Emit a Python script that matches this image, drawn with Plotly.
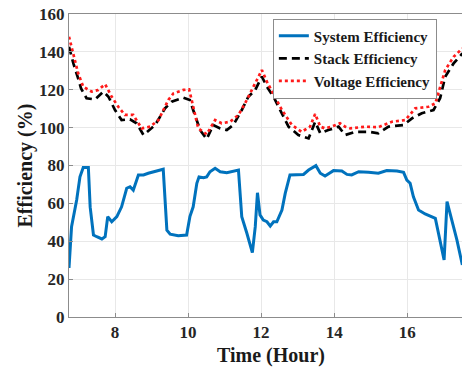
import plotly.graph_objects as go

# Time (hour) and efficiency (%)
time_sys = [6.74, 6.81, 6.95, 7.04, 7.13, 7.27, 7.32, 7.41, 7.50, 7.64, 7.73, 7.80, 7.91,
            8.05, 8.18, 8.32, 8.41, 8.50, 8.64, 8.78, 8.91, 9.05, 9.32, 9.42, 9.51, 9.73,
            9.96, 10.05, 10.14, 10.24, 10.30, 10.42, 10.51, 10.60, 10.74, 10.88, 11.06, 11.38,
            11.47, 11.61, 11.76, 11.84, 11.90, 11.97, 12.06, 12.16, 12.25, 12.34, 12.43, 12.57,
            12.66, 12.79, 13.16, 13.30, 13.50, 13.62, 13.75, 13.89, 13.98, 14.21, 14.35, 14.48,
            14.67, 14.94, 15.21, 15.44, 15.72, 15.90, 15.99, 16.08, 16.17, 16.31, 16.49, 16.77,
            16.88, 17.01, 17.09, 17.22, 17.36, 17.51]
sys_eff = [25.9, 47.7, 61.8, 74.0, 79.0, 79.0, 58.0, 43.3, 42.4, 41.2, 42.4, 53.0, 50.3,
           53.0, 58.2, 68.0, 68.8, 67.0, 75.0, 75.0, 75.9, 76.7, 78.0, 45.9, 43.7, 42.9,
           43.3, 53.0, 58.2, 70.6, 74.0, 73.6, 74.0, 76.7, 78.5, 76.7, 76.2, 77.6,
           53.0, 44.2, 34.0, 47.7, 65.6, 53.9, 51.2, 50.3, 48.0, 50.3, 50.3, 56.5,
           65.3, 75.0, 75.3, 77.6, 79.9, 75.9, 74.4, 76.2, 77.3, 77.1, 75.3, 75.0,
           76.7, 76.4, 75.9, 77.3, 77.1, 76.4, 72.3, 70.6, 63.5, 56.5, 54.4, 52.1,
           42.4, 30.1, 60.9, 51.2, 40.7, 27.5]

time_stack = [6.74, 6.86, 6.99, 7.07, 7.22, 7.45, 7.68, 7.82, 8.00, 8.18, 8.41, 8.59, 8.78,
              9.10, 9.37, 9.55, 9.87, 10.05, 10.14, 10.28, 10.33, 10.51, 10.69, 10.88, 11.06,
              11.24, 11.47, 11.65, 11.84, 12.02, 12.16, 12.34, 12.52, 12.75, 13.02, 13.30,
              13.48, 13.62, 13.84, 14.12, 14.30, 14.58, 14.94, 15.21, 15.49, 15.90, 16.13,
              16.40, 16.72, 16.90, 17.04, 17.27, 17.51]
stack_eff = [142.7, 133.9, 126.0, 120.7, 115.5, 114.9, 119.0, 116.3, 109.3, 104.0, 104.4, 102.3, 96.1,
             101.4, 110.2, 113.7, 115.8, 114.6, 109.3, 100.5, 98.7, 94.0, 101.4, 99.6, 98.7,
             101.4, 109.3, 116.3, 119.9, 126.9, 121.6, 116.3, 109.3, 100.5, 96.1, 94.3,
             103.1, 97.0, 98.7, 100.5, 96.1, 97.8, 97.8, 97.0, 100.5, 101.4, 104.9,
             107.6, 109.3, 115.5, 126.9, 133.9, 139.2]

time_volt = [6.74, 6.86, 6.99, 7.13, 7.36, 7.54, 7.73, 7.91, 8.09, 8.27, 8.50, 8.73, 8.96,
             9.19, 9.46, 9.60, 9.87, 10.03, 10.14, 10.28, 10.51, 10.74, 10.92, 11.15, 11.38,
             11.56, 11.79, 12.02, 12.16, 12.38, 12.57, 12.84, 13.11, 13.34, 13.48, 13.62,
             13.75, 13.93, 14.16, 14.30, 14.44, 14.85, 15.21, 15.58, 15.95, 16.22, 16.58,
             16.77, 16.90, 17.04, 17.27, 17.51]
volt_eff = [148.0, 139.2, 128.7, 121.6, 119.0, 119.9, 122.9, 116.3, 111.0, 106.7, 106.7, 99.6, 100.5,
            104.0, 114.6, 118.1, 119.9, 120.2, 111.0, 99.6, 96.5, 104.0, 102.3, 103.1, 106.7,
            112.8, 121.6, 130.4, 124.2, 116.3, 109.3, 101.4, 97.8, 100.5, 107.2, 100.5,
            99.6, 100.5, 102.3, 100.5, 99.6, 100.5, 100.2, 103.1, 104.0, 110.2, 111.0,
            112.8, 121.6, 130.4, 137.4, 141.8]

y_ticks = [0, 20, 40, 60, 80, 100, 120, 140, 160]
x_ticks = [8, 10, 12, 14, 16]

serif = "Liberation Serif, Times New Roman, serif"

fig = go.Figure()
fig.add_trace(go.Scatter(x=time_sys, y=sys_eff, mode="lines", name="<b>System Efficiency</b>",
                         line=dict(color="#0072BD", width=3)))
fig.add_trace(go.Scatter(x=time_stack, y=stack_eff, mode="lines", name="<b>Stack Efficiency</b>",
                         line=dict(color="#000000", width=2.7, dash="8px,5px")))
fig.add_trace(go.Scatter(x=time_volt, y=volt_eff, mode="lines", name="<b>Voltage Efficiency</b>",
                         line=dict(color="#FF1A1A", width=2.7, dash="dot")))

fig.update_layout(
    width=462, height=368,
    margin=dict(l=69, r=0, t=14, b=51),
    paper_bgcolor="white", plot_bgcolor="white",
    font=dict(family=serif, color="#262626", size=17),
    showlegend=True,
    legend=dict(x=0.936, y=0.985, xanchor="right", yanchor="top",
                bgcolor="white", bordercolor="#8c8c8c", borderwidth=1,
                font=dict(family=serif, size=15, color="#1a1a1a"),
                itemwidth=30, tracegroupgap=0),
    annotations=[
        dict(text="<b>Time (Hour)</b>", xref="paper", yref="paper",
             x=0.514, y=0, yshift=-38, xanchor="center", yanchor="middle",
             showarrow=False, font=dict(family=serif, size=20, color="#1a1a1a")),
        dict(text="<b>Efficiency (%)</b>", xref="paper", yref="paper",
             x=0, y=0.5, xshift=-44, xanchor="center", yanchor="middle", textangle=-90,
             showarrow=False, font=dict(family=serif, size=20, color="#1a1a1a")),
    ],
)
fig.update_xaxes(range=[6.74, 17.5], tickvals=x_ticks, ticktext=[f"<b>{v}</b>" for v in x_ticks],
                 showgrid=True, gridcolor="#e8e8e8", gridwidth=1,
                 showline=True, linecolor="#8c8c8c", linewidth=1, mirror=True,
                 ticks="inside", ticklen=4, tickcolor="#8c8c8c", zeroline=False,
                 tickfont=dict(family=serif, size=17, color="#262626"))
fig.update_yaxes(range=[0, 160], tickvals=y_ticks, ticktext=[f"<b>{v}</b>" for v in y_ticks],
                 showgrid=True, gridcolor="#e8e8e8", gridwidth=1,
                 showline=True, linecolor="#8c8c8c", linewidth=1, mirror=True,
                 ticks="inside", ticklen=4, tickcolor="#8c8c8c", zeroline=False,
                 tickfont=dict(family=serif, size=17, color="#262626"))

fig.write_html("out.html")
